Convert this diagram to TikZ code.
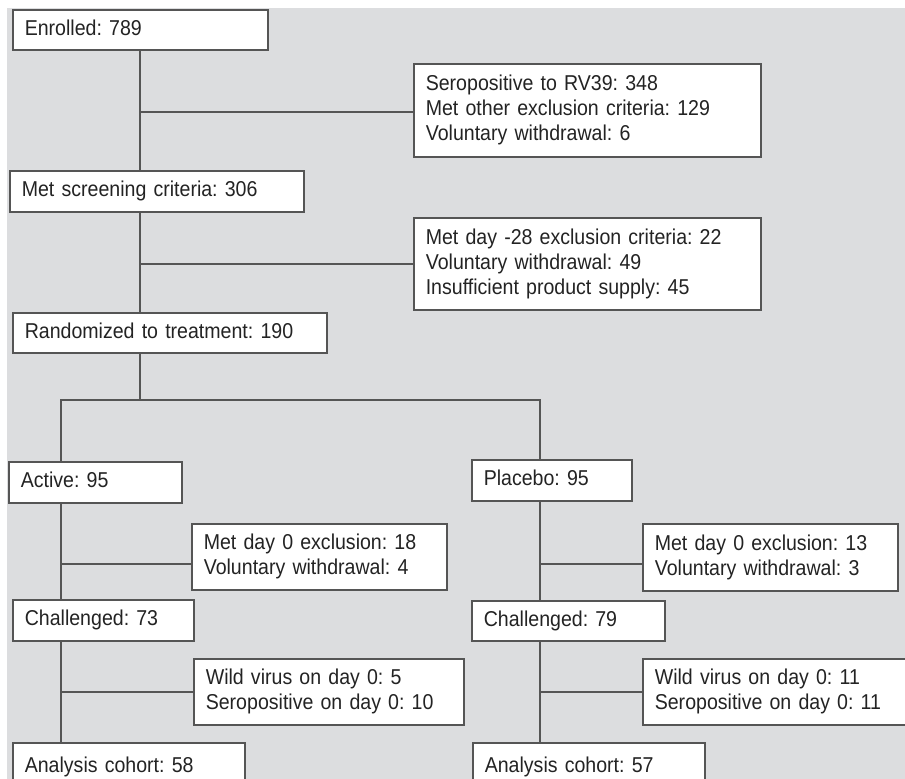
\documentclass[tikz,border=0pt]{standalone}
\usepackage{fontspec}
\setmainfont{Liberation Sans}[FakeStretch=0.91]
\usepackage{tikz}
\frenchspacing
\definecolor{bggray}{RGB}{220,221,223}
\definecolor{linegray}{RGB}{85,85,85}
\definecolor{textgray}{RGB}{35,35,35}
\tikzset{
	box/.style={draw=linegray, fill=white, line width=1.6pt, anchor=north west, align=left, inner xsep=12pt, inner ysep=0pt, text=textgray, font=\fontsize{21.5}{25}\selectfont},
	oneline/.style={box, text depth=4.5pt},
	link/.style={draw=linegray, line width=1.6pt}
}

\begin{document}
\begin{tikzpicture}[x=1pt, y=-1pt]
			%%%%% START %%%%%
			
			\useasboundingbox (0, 0) rectangle (905, 779);
			\fill[white] (0, 0) rectangle (905, 779);
			\fill[bggray] (7, 8) rectangle (905, 779);
			
			\coordinate (trunk) at (140, 0);
			\coordinate (armA) at (61, 0);
			\coordinate (armP) at (540, 0);
			\coordinate (split) at (140, 400);
			
			\node[oneline, text width=231pt, minimum height=40] (enrolled) at (12, 9) {Enrolled: 789};
			\node[box, text width=323pt, minimum height=93] (excl1) at (413, 63) {Seropositive to RV39: 348\\Met other exclusion criteria: 129\\Voluntary withdrawal: 6};
			\node[oneline, text width=270pt, minimum height=41] (screen) at (9, 170) {Met screening criteria: 306};
			\node[box, text width=323pt, minimum height=92] (excl2) at (413, 217) {Met day -28 exclusion criteria: 22\\Voluntary withdrawal: 49\\Insufficient product supply: 45};
			\node[oneline, text width=290pt, minimum height=40] (rand) at (12, 312) {Randomized to treatment: 190};
			
			\node[oneline, text width=149pt, minimum height=41] (active) at (8, 461) {Active: 95};
			\node[box, text width=231pt, minimum height=66] (exclA) at (191, 523) {Met day 0 exclusion: 18\\Voluntary withdrawal: 4};
			\node[oneline, text width=157pt, minimum height=41] (chalA) at (12, 599) {Challenged: 73};
			\node[box, text width=246pt, minimum height=66] (seroA) at (193, 658) {Wild virus on day 0: 5\\Seropositive on day 0: 10};
			\node[oneline, text width=208pt, minimum height=48] (cohortA) at (12, 742) {Analysis cohort: 58};
			
			\node[oneline, text width=136pt, minimum height=41] (placebo) at (471, 459) {Placebo: 95};
			\node[box, text width=231pt, minimum height=67] (exclP) at (642, 523) {Met day 0 exclusion: 13\\Voluntary withdrawal: 3};
			\node[oneline, text width=169pt, minimum height=40] (chalP) at (471, 600) {Challenged: 79};
			\node[box, text width=256pt, minimum height=66] (seroP) at (642, 658) {Wild virus on day 0: 11\\Seropositive on day 0: 11};
			\node[oneline, text width=208pt, minimum height=48] (cohortP) at (472, 742) {Analysis cohort: 57};
			
			\draw[link] (enrolled.south -| trunk) -- (screen.north -| trunk);
			\draw[link] ([yshift=-1.5pt]excl1.west) -- ([yshift=-1.5pt]excl1.west -| trunk);
			\draw[link] (screen.south -| trunk) -- (rand.north -| trunk);
			\draw[link] (excl2.west) -- (excl2.west -| trunk);
			\draw[link] (rand.south -| trunk) -- (split);
			\draw[link] (active.north -| armA) |- (split) -| (placebo.north -| armP);
			
			\draw[link] (active.south -| armA) -- (chalA.north -| armA);
			\draw[link] ([yshift=-7pt]exclA.west) -- ([yshift=-7pt]exclA.west -| armA);
			\draw[link] (chalA.south -| armA) -- (cohortA.north -| armA);
			\draw[link] (seroA.west) -- (seroA.west -| armA);
			
			\draw[link] (placebo.south -| armP) -- (chalP.north -| armP);
			\draw[link] ([yshift=-6.5pt]exclP.west) -- ([yshift=-6.5pt]exclP.west -| armP);
			\draw[link] (chalP.south -| armP) -- (cohortP.north -| armP);
			\draw[link] (seroP.west) -- (seroP.west -| armP);
			
			%%%%% END %%%%%
		\end{tikzpicture}
\end{document}
